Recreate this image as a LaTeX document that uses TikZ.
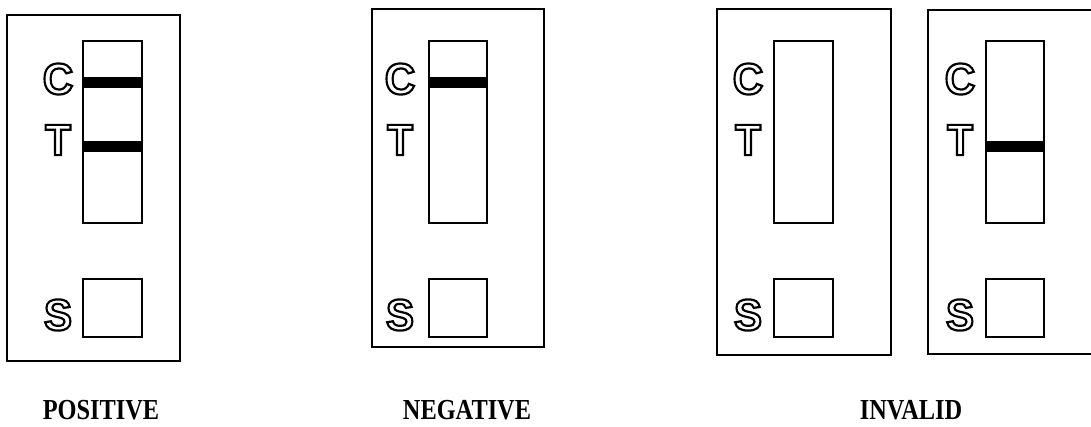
\documentclass[tikz,border=0pt]{standalone}
\usepackage{fontspec}
\setmainfont{Liberation Serif}
\newfontfamily\letterfont{Liberation Sans}
\newcommand\olet[1]{\special{pdf:literal direct 1 Tr 2.2 w}#1\special{pdf:literal direct 0 Tr 1 w}}
\newcommand\rbox[6]{\node[#6, anchor=north west, minimum width={(#4-#2)*1pt}, minimum height={(#5-#3)*1pt}] (#1) at (#2,#3) {};}
\tikzset{
  card/.style={draw, line width=1.8pt, inner sep=0, outer sep=0},
  strip/.style={draw, line width=1.6pt, inner sep=0, outer sep=0},
  band/.style={fill=black, inner sep=0, outer sep=0},
  letter/.style={font=\letterfont\bfseries\fontsize{44}{44}\selectfont, text=black, inner sep=0, xscale=0.96},
  result/.style={font=\bfseries\fontsize{29}{29}\selectfont, anchor=base, inner sep=0, text depth=0pt, xscale=0.84}
}
\begin{document}
\begin{tikzpicture}[x=1pt,y=-1pt]
\useasboundingbox (0,0) rectangle (1091,426);
\clip (0,0) rectangle (1091,426);
% POSITIVE
\rbox{pcard}{7}{15}{180}{361}{card}
\rbox{pstrip}{83}{41}{142}{223}{strip}
\rbox{pcband}{83}{77}{142}{88}{band}
\rbox{ptband}{83}{141}{142}{152}{band}
\rbox{psq}{83}{279}{142}{337}{strip}
\node[letter] (pc) at (58,79) {\olet{C}};
\node[letter] (pt) at (58,140) {\olet{T}};
\node[letter] (ps) at (58,315) {\olet{S}};
\node[result] (plab) at (101,419) {POSITIVE};
% NEGATIVE
\rbox{ncard}{372}{9}{544}{347}{card}
\rbox{nstrip}{429}{41}{487}{223}{strip}
\rbox{ncband}{429}{77}{487}{88}{band}
\rbox{nsq}{429}{279}{487}{337}{strip}
\node[letter] (nc) at (400,79) {\olet{C}};
\node[letter] (nt) at (400,140) {\olet{T}};
\node[letter] (ns) at (400,315) {\olet{S}};
\node[result] (nlab) at (467,419) {NEGATIVE};
% INVALID 1
\rbox{icard}{717}{9}{891}{355}{card}
\rbox{istrip}{774}{41}{833}{223}{strip}
\rbox{isq}{774}{279}{833}{337}{strip}
\node[letter] (ic) at (748,79) {\olet{C}};
\node[letter] (it) at (748,140) {\olet{T}};
\node[letter] (is) at (748,315) {\olet{S}};
% INVALID 2
\rbox{jcard}{928}{10}{1110}{354}{card}
\rbox{jstrip}{986}{41}{1044}{223}{strip}
\rbox{jtband}{986}{141}{1044}{152}{band}
\rbox{jsq}{986}{279}{1044}{337}{strip}
\node[letter] (jc) at (960,79) {\olet{C}};
\node[letter] (jt) at (960,140) {\olet{T}};
\node[letter] (js) at (960,315) {\olet{S}};
\node[result] (ilab) at (911,419) {INVALID};
\end{tikzpicture}
\end{document}
